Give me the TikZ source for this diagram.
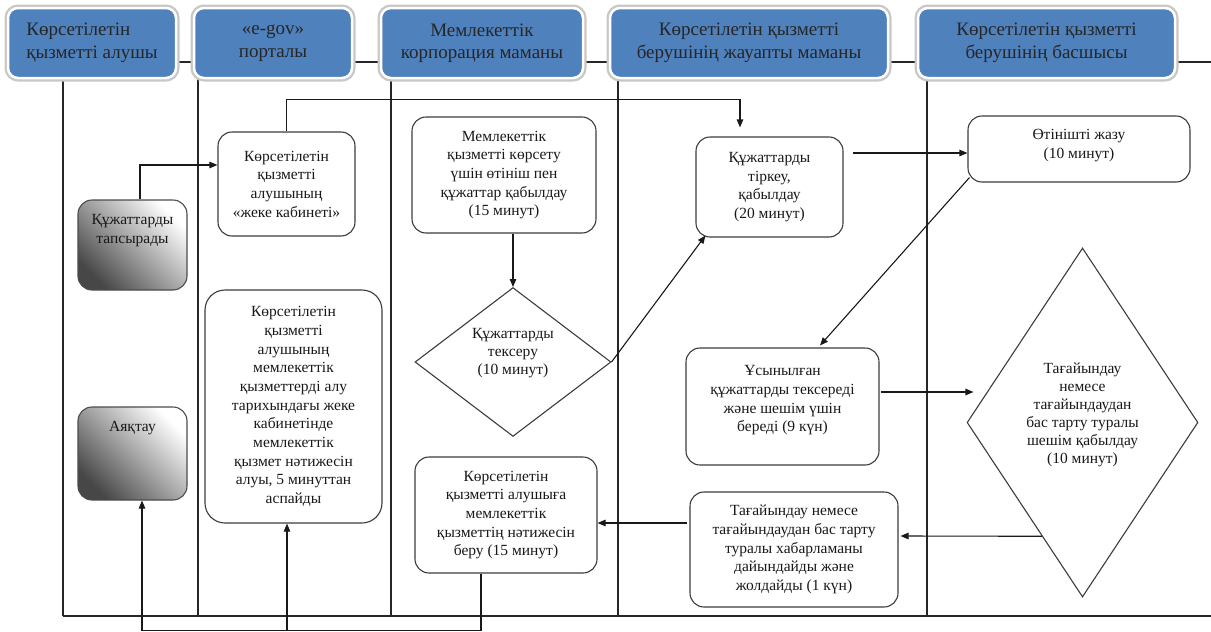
\documentclass[tikz,border=0pt]{standalone}
\usepackage{fontspec}
\setmainfont{Liberation Serif}
\usetikzlibrary{arrows.meta,shapes.geometric,calc}

\definecolor{hdrblue}{RGB}{79,129,189}
\definecolor{ink}{RGB}{25,25,25}
\definecolor{frame}{RGB}{60,60,60}

\begin{document}
\begin{tikzpicture}[x=1pt,y=-1pt,
  lane/.style={line width=1.1pt, draw=black!85},
  hdr/.style={rectangle, rounded corners=10pt, fill=hdrblue, draw=white, line width=2.5pt,
    preaction={draw=black!22, line width=7pt}, inner sep=0pt, minimum height=70pt,
    font=\fontsize{19}{22.5}\selectfont, text=black!85, align=center},
  box/.style={rectangle, rounded corners=14pt, draw=frame, line width=1.1pt, fill=white,
    inner sep=0pt, align=center, font=\fontsize{15.5}{18.7}\selectfont, text=ink},
  gbox/.style={box, top color=white, bottom color=black!72, shading angle=-45, draw=black!70},
  dia/.style={diamond, draw=frame, line width=1.1pt, fill=white, inner sep=0pt, align=center,
    font=\fontsize{15.5}{18}\selectfont, text=ink},
  arr/.style={line width=1.1pt, draw=black!90, -{Triangle[length=8pt,width=6.5pt]}}
]
\useasboundingbox (0,0) rectangle (1211,632);

% swimlane frame
\foreach \x in {63,198,391,618,927} \draw[lane] (\x,79) -- (\x,616);
\draw[lane] (63,616) -- (1211,616);
\draw[lane] (176,62) -- (194,62);
\draw[lane] (352,62) -- (381,62);
\draw[lane] (583,62) -- (610,62);
\draw[lane] (888,62) -- (918,62);
\draw[lane] (1175,62) -- (1211,62);

% lane headers
\node[hdr, minimum width=168pt, align=left] (h1) at (92,43) {Көрсетілетін\\қызметті алушы};
\node[hdr, minimum width=158pt] (h2) at (273,43) {«e-gov»\\порталы};
\node[hdr, minimum width=202pt] (h3) at (482,43) {Мемлекеттік\\корпорация маманы};
\node[hdr, minimum width=278pt] (h4) at (749,43) {Көрсетілетін қызметті\\берушінің жауапты маманы};
\node[hdr, minimum width=257pt] (h5) at (1046.5,43) {Көрсетілетін қызметті\\берушінің басшысы};

% service recipient
\node[gbox, minimum width=109pt, minimum height=90pt] (A) at (132.5,245)
  {Құжаттарды\\тапсырады\\[13pt]\mbox{}};
\node[gbox, minimum width=109pt, minimum height=93pt] (D) at (132.5,453.5)
  {Аяқтау\\[35pt]\mbox{}};

% e-gov portal
\node[box, minimum width=137pt, minimum height=104pt] (B) at (286.5,184)
  {Көрсетілетін\\қызметті\\алушының\\«жеке кабинеті»};
\node[box, rounded corners=20pt, minimum width=177pt, minimum height=233pt] (C) at (293.5,406.5)
  {Көрсетілетін\\қызметті\\алушының\\мемлекеттік\\қызметтерді алу\\тарихындағы жеке\\кабинетінде\\мемлекеттік\\қызмет нәтижесін\\алуы, 5 минуттан\\аспайды};

% state corporation
\node[box, minimum width=184pt, minimum height=116pt] (E) at (504,175)
  {Мемлекеттік\\қызметті көрсету\\үшін өтініш пен\\құжаттар қабылдау\\(15 минут)};
\node[dia, minimum width=196pt, minimum height=144pt] (F) at (513,362)
  {Құжаттарды\\тексеру\\(10 минут)\\[3pt]\mbox{}};
\node[box, minimum width=182pt, minimum height=116pt] (G) at (506,515)
  {Көрсетілетін\\қызметті алушыға\\мемлекеттік\\қызметтің нәтижесін\\беру (15 минут)};

% responsible specialist
\node[box, minimum width=147pt, minimum height=100pt] (H) at (769.5,187)
  {Құжаттарды\\тіркеу,\\қабылдау\\(20 минут)};
\node[box, minimum width=193pt, minimum height=117pt] (I) at (782.5,406.5)
  {Ұсынылған\\құжаттарды тексереді\\және шешім үшін\\береді (9 күн)\\[-3pt]\mbox{}};
\node[box, minimum width=208pt, minimum height=115pt] (J) at (794,549.5)
  {Тағайындау немесе\\тағайындаудан бас тарту\\туралы хабарламаны\\дайындайды және\\жолдайды (1 күн)};

% head of the provider
\node[box, minimum width=222pt, minimum height=66pt] (K) at (1079,149)
  {Өтінішті жазу\\(10 минут)\\[-8pt]\mbox{}};
\node[dia, minimum width=229pt, minimum height=349pt] (L) at (1082.5,422.5)
  {Тағайындау\\немесе\\тағайындаудан\\бас тарту туралы\\шешім қабылдау\\(10 минут)\\\mbox{}};

% flow
\draw[arr] ([xshift=7.5pt]A.north) |- ([yshift=19pt]B.west);
\draw[arr] (B.north) |- ([xshift=-29.5pt,yshift=37pt]H.north) -- ([xshift=-29.5pt,yshift=9pt]H.north);
\draw[arr] (F.north |- E.south) -- (F.north);
\draw[arr] (F.east) -- ([xshift=10pt,yshift=2pt]H.south west);
\draw[arr] ([xshift=9pt,yshift=34pt]H.east) -- ([yshift=-4pt]K.west);
\draw[arr] ([xshift=2pt,yshift=5pt]K.south west) -- ([xshift=37.5pt,yshift=2pt]I.north);
\draw[arr] ([xshift=1pt,yshift=14.5pt]I.east) -- ([xshift=7pt,yshift=30.5pt]L.west);
\draw[arr] ($(L.west)!0.65!(L.south)$) -- ([xshift=2pt,yshift=13.5pt]J.east);
\draw[arr] ([xshift=-2pt,yshift=26.5pt]J.west) -- ([yshift=-8pt]G.east);
\draw[arr] ([xshift=-25pt]G.south) -- ++(0,57) -| ([xshift=9.5pt]D.south);
\draw[arr] ([xshift=-6.5pt,yshift=-107pt]C.south) -- ([xshift=-6.5pt]C.south);
\end{tikzpicture}
\end{document}
